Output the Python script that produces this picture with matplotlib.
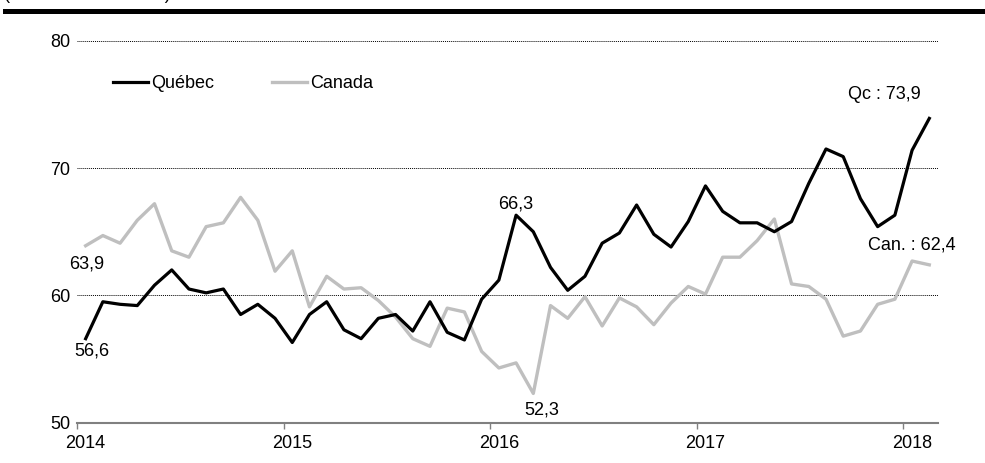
import matplotlib
matplotlib.use("Agg")
import matplotlib.pyplot as plt
from matplotlib.lines import Line2D

plt.rcParams["font.family"] = ["Liberation Sans", "DejaVu Sans"]
plt.rcParams["font.size"] = 13

# monthly values, Jan 2014 to Feb 2018
quebec = [56.6, 59.5, 59.3, 59.2, 60.8, 62.0, 60.5, 60.2, 60.5, 58.5,
          59.3, 58.2, 56.3, 58.5, 59.5, 57.3, 56.6, 58.2, 58.5, 57.2,
          59.5, 57.1, 56.5, 59.7, 61.2, 66.3, 65.0, 62.2, 60.4, 61.5,
          64.1, 64.9, 67.1, 64.8, 63.8, 65.8, 68.6, 66.6, 65.7, 65.7,
          65.0, 65.8, 68.8, 71.5, 70.9, 67.6, 65.4, 66.3, 71.4, 73.9]
canada = [63.9, 64.7, 64.1, 65.9, 67.2, 63.5, 63.0, 65.4, 65.7, 67.7,
          65.9, 61.9, 63.5, 59.1, 61.5, 60.5, 60.6, 59.6, 58.3, 56.6,
          56.0, 59.0, 58.7, 55.6, 54.3, 54.7, 52.3, 59.2, 58.2, 59.9,
          57.6, 59.8, 59.1, 57.7, 59.4, 60.7, 60.1, 63.0, 63.0, 64.3,
          66.0, 60.9, 60.7, 59.7, 56.8, 57.2, 59.3, 59.7, 62.7, 62.4]
years = ["2014", "2015", "2016", "2017", "2018"]

x = list(range(len(quebec)))

fig = plt.figure(figsize=(9.85, 4.63), dpi=100)
ax = fig.add_axes([0.0782, 0.087, 0.874, 0.825])

ax.plot(x, canada, color="#bfbfbf", lw=2.4, label="Canada", zorder=3)
ax.plot(x, quebec, color="black", lw=2.3, label="Québec", zorder=4)

ax.set_ylim(50, 80)
ax.set_xlim(-0.5, len(quebec) - 0.5)
ax.set_yticks([50, 60, 70, 80])
for v in [60, 70, 80]:
    ax.axhline(v, color="black", lw=0.7, ls=(0, (1, 1)), zorder=1)

# year labels at January, tick marks at year boundaries
ax.set_xticks([12 * k for k in range(len(years))])
ax.set_xticklabels(years)
ax.set_xticks([12 * k - 0.5 for k in range(len(years))], minor=True)
ax.tick_params(axis="x", which="major", length=0, pad=9)
ax.tick_params(axis="x", which="minor", length=4, width=1, color="#808080")
ax.tick_params(axis="y", length=0, pad=5)

for s in ["top", "right", "left"]:
    ax.spines[s].set_visible(False)
ax.spines["bottom"].set_color("#808080")
ax.spines["bottom"].set_linewidth(1.5)

handles, labels = ax.get_legend_handles_labels()
ax.legend(handles[::-1], labels[::-1], loc="center left", bbox_to_anchor=(0.042, 0.887),
          ncol=2, frameon=False, borderpad=0, borderaxespad=0, handlelength=1.95,
          handletextpad=0.15, columnspacing=3.2, fontsize=13)

notes = [
    (0, canada[0], "63,9", (1, -18)),
    (0, quebec[0], "56,6", (6, -12)),
    (25, quebec[25], "66,3", (0, 11)),
    (26, canada[26], "52,3", (8, -17)),
    (49, quebec[49], "Qc : 73,9", (-45, 24)),
    (49, canada[49], "Can. : 62,4", (-17, 20)),
]
for xi, yi, txt, off in notes:
    ax.annotate(txt, (xi, yi), xytext=off, textcoords="offset pixels",
                ha="center", va="center", fontsize=13)

fig.add_artist(Line2D([0.005, 1.0], [0.9752, 0.9752], color="black", lw=3.6,
                      transform=fig.transFigure))
# subtitle cut off by the top edge, as in the source image
fig.text(0.004, 1.0 + 0.5 / 463, "(indice de confiance)", ha="left", va="baseline", fontsize=13)

fig.savefig("out.png", dpi=100)
